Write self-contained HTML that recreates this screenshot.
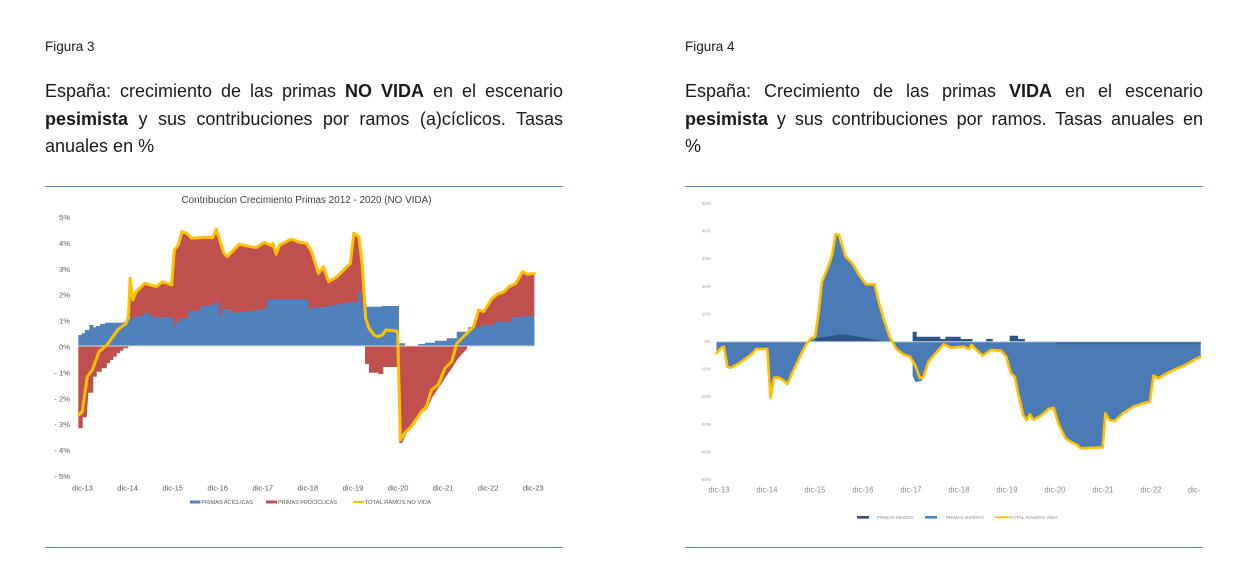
<!DOCTYPE html>
<html>
<head>
<meta charset="utf-8">
<style>
  html,body{margin:0;padding:0;background:#fff;}
  body{width:1244px;height:584px;position:relative;overflow:hidden;font-family:"Liberation Sans",Arial,sans-serif;color:#1a1a1a;}
  .fig{position:absolute;font-size:13.5px;line-height:15px;}
  .cap{position:absolute;width:518px;font-size:18px;line-height:27.5px;}
  .cap div{white-space:nowrap;}
  .cap .j{text-align:justify;text-align-last:justify;white-space:normal;}
  .rule{position:absolute;height:1px;background:#5b89b3;width:518px;}
  svg{position:absolute;left:0;top:0;}
</style>
</head>
<body>
<div class="fig" style="left:45px;top:39px;">Figura 3</div>
<div class="fig" style="left:685px;top:39px;">Figura 4</div>

<div class="cap" style="left:45px;top:78px;">
  <div class="j">España: crecimiento de las primas <b>NO VIDA</b> en el escenario</div>
  <div class="j"><b>pesimista</b> y sus contribuciones por ramos (a)cíclicos. Tasas</div>
  <div>anuales en %</div>
</div>
<div class="cap" style="left:685px;top:78px;">
  <div class="j">España: Crecimiento de las primas <b>VIDA</b> en el escenario</div>
  <div class="j"><b>pesimista</b> y sus contribuciones por ramos. Tasas anuales en</div>
  <div>%</div>
</div>

<div class="rule" style="left:45px;top:186px;"></div>
<div class="rule" style="left:685px;top:186px;"></div>
<div class="rule" style="left:45px;top:547px;"></div>
<div class="rule" style="left:685px;top:547px;"></div>

<svg width="1244" height="584" viewBox="0 0 1244 584" xmlns="http://www.w3.org/2000/svg" font-family="Liberation Sans, Arial, sans-serif">
  <!-- ============ LEFT CHART ============ -->
  <text x="306.5" y="203" font-size="10" fill="#404040" text-anchor="middle" textLength="250" lengthAdjust="spacingAndGlyphs">Contribucion Crecimiento Primas 2012 - 2020 (NO VIDA)</text>

  <!-- y labels -->
  <g font-size="7.6" fill="#595959" text-anchor="end">
    <text x="70" y="220">5%</text>
    <text x="70" y="246">4%</text>
    <text x="70" y="272">3%</text>
    <text x="70" y="297.7">2%</text>
    <text x="70" y="323.6">1%</text>
    <text x="70" y="349.5">0%</text>
    <text x="70" y="375.4">- 1%</text>
    <text x="70" y="401.3">- 2%</text>
    <text x="70" y="427.1">- 3%</text>
    <text x="70" y="453">- 4%</text>
    <text x="70" y="478.9">- 5%</text>
  </g>
  <!-- x labels -->
  <g font-size="7.6" fill="#595959" text-anchor="middle">
    <text x="82.5" y="490.3">dic-13</text>
    <text x="127.6" y="490.3">dic-14</text>
    <text x="172.7" y="490.3">dic-15</text>
    <text x="217.7" y="490.3">dic-16</text>
    <text x="262.8" y="490.3">dic-17</text>
    <text x="307.9" y="490.3">dic-18</text>
    <text x="353" y="490.3">dic-19</text>
    <text x="398.1" y="490.3">dic-20</text>
    <text x="443.1" y="490.3">dic-21</text>
    <text x="488.2" y="490.3">dic-22</text>
    <text x="533.3" y="490.3">dic-23</text>
  </g>

  <!-- red positive areas (zoom coords, transformed) -->
  <g transform="translate(40 0) scale(1.0123 1) translate(-40 0)">
    <polygon fill="#c0504d" points="125,346 125,323.3 127.3,317.7 129,278.3 131.7,300 135,291.7 143.3,283.3 155,286.7 160.7,281.7 170,285 172.7,250 176.7,245 180,231.7 185,233.3 190,238.3 203.3,237.3 210.7,237.7 214,229 221.7,253.3 225,256.7 236.7,244.3 253.3,247.7 261.7,242.3 268.3,245.7 270,243.3 273.3,254.3 276.7,245 288.3,239 296.7,242.3 303.3,243.3 308.3,251.7 315,273.3 320,266.7 325,281.7 333.3,276.7 341.7,268.3 346.7,263.3 350,233.3 355,236.7 358.3,265 361.7,318.3 361.7,346"/>
    <polygon fill="#c0504d" points="451.7,346 451.7,343.3 460,335 468.3,326.7 473.3,310 478.3,311.7 486.7,298.3 491.7,294.3 498.3,291.7 503.3,286.7 510,283.3 516.7,271.7 521.7,274.3 527.3,273.3 528.3,273.3 528.3,346"/>
  </g>
  <!-- red negative 2014 -->
  <polygon fill="#c0504d" points="78.3,346 78.3,428.3 82.7,428.3 82.7,417.3 86.7,417.3 88.3,392.7 93.3,392.7 93.3,376.7 96.7,376.7 96.7,371.7 101.7,371.7 101.7,368.3 106.7,368.3 106.7,363.3 110,363.3 110,360 113.3,360 113.3,356.7 116.7,356.7 116.7,353.3 120,353.3 120,350.7 123.3,350.7 123.3,348.3 128.3,348.3 128.3,346"/>
  <!-- red negative 2020 -->
  <polygon fill="#c0504d" points="365,346 365,364 369,364 369,372.7 378.3,372.7 378.3,374 383.3,374 383.3,367 399.3,367 399.3,443 402,443 408,430 415,424 421.7,413 427,409 432,398 437,390 442,383 447,375 452,368 457,360 462,354 467,349 467,346"/>
  <!-- blue -->
  <polygon fill="#4f81bd" points="78.3,346 78.3,335 81.7,335 81.7,333.3 85,333.3 85,330 89.3,330 89.3,325 93.3,325 93.3,327.3 96,327.3 96,326 100,326 100,324 105,324 105,322.7 123.3,322.7 123.3,321.7 128.3,321.7 128.3,317.3 131.7,317.3 131.7,319.3 135,319.3 135,316 143.3,316 143.3,313.3 150,313.3 150,316.7 155,316.7 155,317.3 173.3,317.3 173.3,328.3 175,328.3 175,321.7 180,321.7 180,318.3 188.3,318.3 188.3,310.7 200,310.7 200,306.7 216.7,304 216.7,301.7 219.3,301.7 219.3,316 221.7,316 221.7,309.3 231.7,309.3 231.7,313.3 260,310 266.7,308 266.7,299.3 300,299.3 308.3,299.3 308.3,310 310,310 310,308.3 325,306.7 340,304 355,301.7 358.3,301.7 358.3,291.7 361.7,291.7 361.7,305 366.7,305 366.7,306.7 381.7,306.7 381.7,306 399,306 399,343.3 405,343.3 405,346 418.3,346 418.3,344 425,344 425,342.7 435,342.7 435,340.7 446.7,340.7 446.7,338.3 456.7,338.3 456.7,331.7 468.3,331.7 468.3,327.3 481.7,327.3 481.7,325 495,325 495,321.7 511.7,321.7 511.7,317.3 534.3,316 534.3,346"/>
  <line x1="78.3" y1="346" x2="534.3" y2="346" stroke="#d9d9d9" stroke-width="1"/>
  <!-- yellow total -->
  <g transform="translate(40 0) scale(1.0123 1) translate(-40 0)">
    <polyline fill="none" stroke="#ffc000" stroke-width="3" stroke-linejoin="round" stroke-linecap="round" points="78.3,415 81.7,411.7 86.7,376.7 91.7,370 98.3,351.7 106.7,344.3 116.7,330 125,323.3 127.3,317.7 129,278.3 131.7,300 135,291.7 143.3,283.3 155,286.7 160.7,281.7 170,285 172.7,250 176.7,245 180,231.7 185,233.3 190,238.3 203.3,237.3 210.7,237.7 214,229 221.7,253.3 225,256.7 236.7,244.3 253.3,247.7 261.7,242.3 268.3,245.7 270,243.3 273.3,254.3 276.7,245 288.3,239 296.7,242.3 303.3,243.3 308.3,251.7 315,273.3 320,266.7 325,281.7 333.3,276.7 341.7,268.3 346.7,263.3 350,233.3 355,236.7 358.3,265 361.7,318.3 365,328.3 370,335 373.3,336.7 378.3,335 381.7,330 391.7,331 393.3,331.7 396,440 400,433.3 406.7,426.7 416.7,411.7 421.7,406.7 426.7,390 433.3,385 440,368.3 446.7,361.7 451.7,343.3 460,335 468.3,326.7 473.3,310 478.3,311.7 486.7,298.3 491.7,294.3 498.3,291.7 503.3,286.7 510,283.3 516.7,271.7 521.7,274.3 528.3,273.3"/>
  </g>

  <!-- left legend -->
  <rect x="190" y="500.5" width="10.5" height="3" fill="#4f81bd"/>
  <text x="201.5" y="504" font-size="5.5" fill="#595959" textLength="51.5" lengthAdjust="spacingAndGlyphs">PRIMAS ACÍCLICAS</text>
  <rect x="266" y="500.5" width="11" height="3" fill="#c0504d"/>
  <text x="278" y="504" font-size="5.5" fill="#595959" textLength="59" lengthAdjust="spacingAndGlyphs">PRIMAS PROCÍCLICAS</text>
  <line x1="353" y1="502" x2="364" y2="502" stroke="#ffc000" stroke-width="2"/>
  <text x="364.5" y="504" font-size="5.5" fill="#595959" textLength="66.5" lengthAdjust="spacingAndGlyphs">TOTAL RAMOS NO VIDA</text>

  <!-- ============ RIGHT CHART ============ -->
  <g font-size="4.6" fill="#a0a0a0" text-anchor="end">
    <text x="711" y="205">50%</text>
    <text x="711" y="232.6">40%</text>
    <text x="711" y="260.2">30%</text>
    <text x="711" y="287.8">20%</text>
    <text x="711" y="315.4">10%</text>
    <text x="711" y="343">0%</text>
    <text x="711" y="370.6">-10%</text>
    <text x="711" y="398.2">-20%</text>
    <text x="711" y="425.8">-30%</text>
    <text x="711" y="453.4">-40%</text>
    <text x="711" y="481">-50%</text>
  </g>
  <g font-size="7.8" fill="#8c8c8c" text-anchor="middle">
    <text x="718.9" y="492.3">dic-13</text>
    <text x="766.9" y="492.3">dic-14</text>
    <text x="814.9" y="492.3">dic-15</text>
    <text x="862.9" y="492.3">dic-16</text>
    <text x="910.9" y="492.3">dic-17</text>
    <text x="958.9" y="492.3">dic-18</text>
    <text x="1006.9" y="492.3">dic-19</text>
    <text x="1054.9" y="492.3">dic-20</text>
    <text x="1102.9" y="492.3">dic-21</text>
    <text x="1150.9" y="492.3">dic-22</text>
  </g>
  <text x="1187.7" y="492.3" font-size="7.8" fill="#8c8c8c">dic-</text>

  <g transform="translate(680 0) scale(1.0144 1) translate(-680 0)">
    <!-- light blue ahorro area -->
    <polygon fill="#4a7bb7" points="716,341.7 716,353.3 720,348.3 723.3,346.7 726.7,366.7 730,367.7 738.3,363.3 751.7,353.3 755,349 766,349 769.3,398.3 772.7,377.7 777.3,377.7 781.7,380 786,384.3 790,374.3 798.3,356.7 804,345 808.3,339 813.3,336.7 816.7,311.7 820,281.7 826.7,265 830,255 833.3,234.3 836.7,235 843.3,256.7 850,263.3 856.7,275 863.3,284.3 871.7,284.3 876.7,305 881.7,321.7 886.7,336.7 893.3,349 900,354.3 906.7,356.7 911.7,365 916.7,378.3 920,376.7 925,361.7 933.3,351.7 940,344.3 946.7,347.7 960,346.7 965,349 967.3,345 973.3,351 978.3,355.7 986.7,350 996.7,350.7 1001.7,356.7 1006,373.3 1010,376.7 1013.3,393.3 1018.3,415 1021.7,420 1025,414.3 1028.3,420 1036.7,415 1043.3,409 1048.3,407.7 1053.3,424.3 1060,438.3 1065,441.7 1071.7,445 1075,448.3 1096.7,447.3 1099.3,413.3 1103.3,420 1108.3,421 1116.7,413.3 1126.7,406.7 1136.7,403.3 1143.3,401.7 1146.7,375.7 1151.7,378.3 1160,373.3 1166.7,370 1178.3,365 1186.7,360 1193.3,356.7 1193.3,341.7"/>
    <polygon fill="#4a7bb7" points="909.3,341.7 909.3,376 912,382 918,381 920,376.7 916.7,365 913,350"/>
    <!-- dark blue riesgo -->
    <polygon fill="#2c5587" points="813.3,341.7 813.3,338.3 820,337.3 830,336 836.7,334.3 846.7,335 856.7,336.7 866.7,339 880,341 880,341.7"/>
    <polygon fill="#2c5587" points="909.3,341.7 909.3,331.7 913.3,331.7 913.3,336.7 936.7,336.7 936.7,339 941.7,339 941.7,336.7 956.7,336.7 956.7,339 968.3,339 968.3,341.7"/>
    <polygon fill="#2c5587" points="981.7,341.7 981.7,339 988.3,339 988.3,341.7"/>
    <polygon fill="#2c5587" points="1005,341.7 1005,335.7 1013.3,335.7 1013.3,339 1020,339 1020,341.7"/>
    <rect x="1050" y="341.7" width="143.3" height="2.6" fill="#35639c"/>
    <line x1="716" y1="341.7" x2="1193.3" y2="341.7" stroke="#c9d3e3" stroke-width="1"/>
    <!-- yellow total vida -->
    <polyline fill="none" stroke="#ffc000" stroke-width="2.6" stroke-linejoin="round" stroke-linecap="round" points="716,353.3 720,348.3 723.3,346.7 726.7,366.7 730,367.7 738.3,363.3 751.7,353.3 755,349 766,349 769.3,398.3 772.7,377.7 777.3,377.7 781.7,380 786,384.3 790,374.3 798.3,356.7 804,345 808.3,339 813.3,336.7 816.7,311.7 820,281.7 826.7,265 830,255 833.3,234.3 836.7,235 843.3,256.7 850,263.3 856.7,275 863.3,284.3 871.7,284.3 876.7,305 881.7,321.7 886.7,336.7 893.3,349 900,354.3 906.7,356.7 911.7,365 916.7,378.3 920,376.7 925,361.7 933.3,351.7 940,344.3 946.7,347.7 960,346.7 965,349 967.3,345 973.3,351 978.3,355.7 986.7,350 996.7,350.7 1001.7,356.7 1006,373.3 1010,376.7 1013.3,393.3 1018.3,415 1021.7,420 1025,414.3 1028.3,420 1036.7,415 1043.3,409 1048.3,407.7 1053.3,424.3 1060,438.3 1065,441.7 1071.7,445 1075,448.3 1096.7,447.3 1099.3,413.3 1103.3,420 1108.3,421 1116.7,413.3 1126.7,406.7 1136.7,403.3 1143.3,401.7 1146.7,375.7 1151.7,378.3 1160,373.3 1166.7,370 1178.3,365 1186.7,360 1193.3,356.7"/>
  </g>

  <!-- right legend -->
  <rect x="857" y="516" width="12" height="2.6" fill="#2c5587"/>
  <text x="877" y="519" font-size="4.6" fill="#8c8c8c" textLength="36" lengthAdjust="spacingAndGlyphs">PRIMAS RIESGO</text>
  <rect x="925" y="516" width="12" height="2.6" fill="#4f81bd"/>
  <text x="946" y="519" font-size="4.6" fill="#8c8c8c" textLength="38" lengthAdjust="spacingAndGlyphs">PRIMAS AHORRO</text>
  <line x1="995" y1="517.3" x2="1009" y2="517.3" stroke="#ffc000" stroke-width="1.8"/>
  <text x="1009" y="519" font-size="4.6" fill="#8c8c8c" textLength="49" lengthAdjust="spacingAndGlyphs">TOTAL RAMOS VIDA</text>
</svg>
</body>
</html>
